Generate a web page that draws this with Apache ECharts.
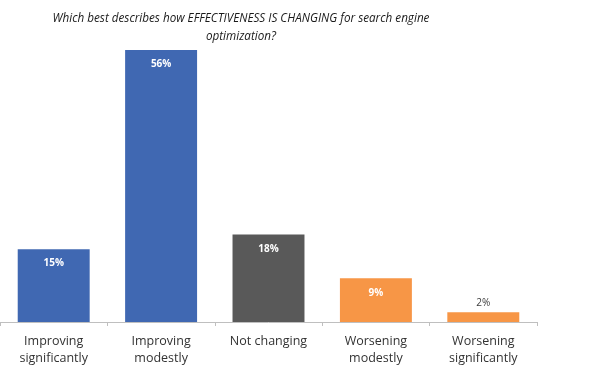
<!DOCTYPE html>
<html>
<head>
<meta charset="utf-8">
<script src="https://cdn.jsdelivr.net/npm/echarts@6/dist/echarts.min.js"></script>
<style>html,body{margin:0;padding:0;background:#fff}#c{width:590px;height:384px}</style>
</head>
<body>
<div id="c"></div>
<script>
const titleText = "Which best describes how EFFECTIVENESS IS CHANGING for search engine\noptimization?";
const categories = ["Improving\nsignificantly", "Improving\nmodestly", "Not changing", "Worsening\nmodestly", "Worsening\nsignificantly"];
const values = [15, 56, 18, 9, 2];
const barColors = ["#4068B2", "#4068B2", "#595959", "#F79646", "#F79646"];
const insideLabel = [true, true, true, true, false];

const chart = echarts.init(document.getElementById('c'));
chart.setOption({
  animation: false,
  title: {
    text: titleText,
    left: 236, top: 5, textAlign: 'center',
    textStyle: {fontFamily: 'Open Sans', fontStyle: 'italic', fontWeight: 'normal', fontSize: 11.7, color: '#1a1a1a', lineHeight: 18}
  },
  grid: {left: 0, width: 537, top: 30.6, bottom: 62, containLabel: false},
  xAxis: {
    type: 'category', data: categories,
    axisLine: {lineStyle: {color: '#bfbfbf', width: 1}},
    axisTick: {show: true, length: 4, lineStyle: {color: '#bfbfbf'}},
    axisLabel: {fontFamily: 'Open Sans', fontSize: 12.5, color: '#333', lineHeight: 17, margin: 11}
  },
  yAxis: {type: 'value', min: 0, max: 60, show: false, splitLine: {show: false}},
  series: [{
    type: 'bar', barCategoryGap: '33%',
    data: values.map((v, i) => ({
      value: v,
      itemStyle: {color: barColors[i]},
      label: insideLabel[i]
        ? {show: true, position: 'insideTop', distance: 9.5, color: '#fff', fontWeight: 'bold', fontSize: 10, fontFamily: 'Open Sans', formatter: '{c}%'}
        : {show: true, position: 'top', distance: 4, color: '#404040', fontWeight: 'normal', fontSize: 10, fontFamily: 'Open Sans', formatter: '{c}%'}
    }))
  }]
});
</script>
</body>
</html>
